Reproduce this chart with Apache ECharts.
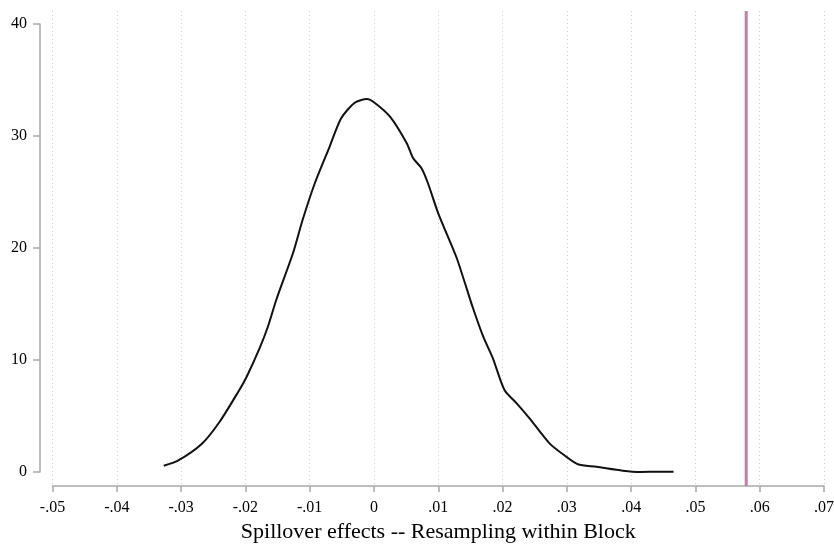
<!DOCTYPE html>
<html style="height: 100%">
<head>
    <meta charset="utf-8">
    <title>Spillover effects</title>
</head>
<body style="height: 100%; margin: 0">
<div id="container" style="width: 834px; height: 544px"></div>

<script src="https://cdn.jsdelivr.net/npm/echarts@6/dist/echarts.min.js"></script>
<script type="text/javascript">
// kernel density of the placebo estimates
var densityX = [-0.0327, -0.0305, -0.0268, -0.0240, -0.0211, -0.0198, -0.0178, -0.0165, -0.0152,
    -0.0126, -0.0111, -0.0092, -0.0069, -0.0051, -0.0030, -0.0011, 0.0001, 0.0025, 0.0051,
    0.0061, 0.0074, 0.0084, 0.0100, 0.0128, 0.0140, 0.0154, 0.0170, 0.0185, 0.0203, 0.0222,
    0.0242, 0.0273, 0.0299, 0.0317, 0.0346, 0.0387, 0.0413, 0.0439, 0.0466];
var densityY = [0.56, 1.01, 2.5, 4.49, 7.17, 8.51, 11.04, 12.97, 15.36,
    19.53, 22.5, 25.78, 29.04, 31.58, 32.97, 33.3, 32.97, 31.72, 29.35,
    28.01, 27.12, 25.78, 23.1, 19.22, 17.14, 14.64, 12.08, 10.15, 7.32, 6.13,
    4.79, 2.56, 1.37, 0.69, 0.47, 0.12, 0.0, 0.02, 0.03];
// actual estimate
var actualX = 0.0579;

var xMin = -0.05, xMax = 0.07, xStep = 0.01;
var yMin = 0, yMax = 40, yStep = 10;
var xTitle = 'Spillover effects -- Resampling within Block';

var curve = densityX.map(function (x, i) { return [x, densityY[i]]; });
var vline = [[actualX, 0], [actualX, 1]];

function fmtX(v) {
    var r = Math.round(v * 100) / 100;
    if (r === 0) return '0';
    return (r < 0 ? '-' : '') + Math.abs(r).toFixed(2).replace(/^0/, '');
}

var font = 'Liberation Serif';
var axisGray = '#a9a9a9';

var myChart = echarts.init(document.getElementById('container'));
var option = {
    backgroundColor: '#ffffff',
    animation: false,
    grid: [
        {left: 52.5, right: 10, top: 24, bottom: 72, outerBoundsMode: 'none'},
        {left: 52.5, right: 10, top: 11, bottom: 58, outerBoundsMode: 'none'}
    ],
    xAxis: [
        {
            gridIndex: 0,
            type: 'value',
            min: xMin, max: xMax, interval: xStep,
            offset: 14,
            name: xTitle,
            nameLocation: 'middle',
            nameGap: 35,
            nameTextStyle: {fontFamily: font, fontSize: 22, color: '#000'},
            axisLine: {show: true, onZero: false, lineStyle: {color: axisGray, width: 1.5}},
            axisTick: {show: true, length: 6, lineStyle: {color: axisGray, width: 1.5}},
            axisLabel: {fontFamily: font, fontSize: 16, color: '#000', margin: 14, formatter: fmtX},
            splitLine: {show: false}
        },
        {
            gridIndex: 1,
            type: 'value',
            min: xMin, max: xMax, interval: xStep,
            axisLine: {show: false},
            axisTick: {show: false},
            axisLabel: {show: false},
            splitLine: {show: true, lineStyle: {color: '#cfcfcf', type: [1, 3], width: 1}}
        }
    ],
    yAxis: [
        {
            gridIndex: 0,
            type: 'value',
            min: yMin, max: yMax, interval: yStep,
            offset: 12.5,
            axisLine: {show: true, onZero: false, lineStyle: {color: axisGray, width: 1.5}},
            axisTick: {show: true, length: 7, lineStyle: {color: axisGray, width: 1.5}},
            axisLabel: {fontFamily: font, fontSize: 16, color: '#000', margin: 13},
            splitLine: {show: false}
        },
        {
            gridIndex: 1,
            type: 'value',
            min: 0, max: 1,
            show: false
        }
    ],
    series: [
        {
            name: 'density',
            type: 'line',
            xAxisIndex: 0, yAxisIndex: 0,
            data: curve,
            showSymbol: false,
            smooth: 0.25,
            lineStyle: {color: '#111111', width: 2},
            z: 5
        },
        {
            name: 'actual',
            type: 'line',
            xAxisIndex: 1, yAxisIndex: 1,
            data: vline,
            showSymbol: false,
            lineStyle: {color: '#c57ca9', width: 3},
            z: 4
        }
    ]
};
myChart.setOption(option);
</script>
</body>
</html>
